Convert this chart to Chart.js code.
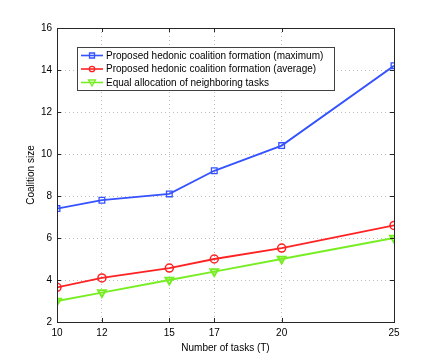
<!DOCTYPE html>
<html>
<head>
<meta charset="utf-8">
<script src="https://cdn.jsdelivr.net/npm/chart.js@4.4.1/dist/chart.umd.min.js"></script>
<style>
  html, body { margin: 0; padding: 0; background: #fff; }
  #wrap { width: 436px; height: 362px; }
</style>
</head>
<body>
<div id="wrap"><canvas id="chart" width="436" height="362"></canvas></div>
<script>
// data
const tasks = [10, 12, 15, 17, 20, 25];
const maxSize = [7.4, 7.8, 8.1, 9.2, 10.4, 14.2];
const avgSize = [3.65, 4.1, 4.57, 5.0, 5.52, 6.6];
const equalSize = [3.0, 3.4, 4.0, 4.4, 5.0, 6.0];
const xTicks = [10, 12, 15, 17, 20, 25];
const yTicks = [2, 4, 6, 8, 10, 12, 14, 16];
const seriesNames = [
    'Proposed hedonic coalition formation (maximum)',
    'Proposed hedonic coalition formation (average)',
    'Equal allocation of neighboring tasks'
];

const FONT = 'Liberation Sans, Arial, Helvetica, sans-serif';
const AXIS = '#262626';

function toPoints(ys) {
    return tasks.map((t, i) => ({ x: t, y: ys[i] }));
}

// frame on all four sides + small inward ticks (matlab look)
const framePlugin = {
    id: 'frame',
    afterDatasetsDraw(chart) {
        const ctx = chart.ctx;
        const a = chart.chartArea;
        const xs = chart.scales.x, ys = chart.scales.y;
        ctx.save();
        ctx.strokeStyle = AXIS;
        ctx.lineWidth = 1;
        ctx.strokeRect(Math.round(a.left) + 0.5, Math.round(a.top) + 0.5,
            Math.round(a.right - a.left), Math.round(a.bottom - a.top));
        ctx.beginPath();
        xTicks.forEach(v => {
            const px = Math.round(xs.getPixelForValue(v)) + 0.5;
            ctx.moveTo(px, a.bottom); ctx.lineTo(px, a.bottom - 4);
            ctx.moveTo(px, a.top); ctx.lineTo(px, a.top + 4);
        });
        yTicks.forEach(v => {
            const py = Math.round(ys.getPixelForValue(v)) + 0.5;
            ctx.moveTo(a.left, py); ctx.lineTo(a.left + 4, py);
            ctx.moveTo(a.right, py); ctx.lineTo(a.right - 4, py);
        });
        ctx.stroke();
        ctx.restore();
    }
};

// boxed legend inside the plot, like the original
const legendBox = {
    id: 'legendBox',
    afterDraw(chart) {
        const ctx = chart.ctx;
        const x0 = 77.5, y0 = 47.5, w = 257, h = 43;
        ctx.save();
        ctx.fillStyle = '#fff';
        ctx.fillRect(x0, y0, w, h);
        ctx.strokeStyle = '#404040';
        ctx.lineWidth = 1;
        ctx.strokeRect(x0, y0, w, h);
        chart.data.datasets.forEach((ds, i) => {
            const cy = 55.5 + i * 13.5;
            ctx.strokeStyle = ds.borderColor;
            ctx.lineWidth = 1.6;
            ctx.beginPath();
            ctx.moveTo(81, cy); ctx.lineTo(103, cy);
            ctx.stroke();
            ctx.lineWidth = 1.3;
            ctx.beginPath();
            if (i === 0) {
                ctx.rect(89.5, cy - 2.5, 5, 5);
            } else if (i === 1) {
                ctx.arc(92, cy, 2.7, 0, Math.PI * 2);
            } else {
                ctx.moveTo(88.5, cy - 2.5); ctx.lineTo(95.5, cy - 2.5); ctx.lineTo(92, cy + 3.5);
                ctx.closePath();
            }
            ctx.stroke();
            ctx.fillStyle = '#000';
            ctx.font = '10px ' + FONT;
            ctx.textBaseline = 'middle';
            ctx.fillText(seriesNames[i], 106, cy + 0.5);
        });
        ctx.restore();
    }
};

new Chart(document.getElementById('chart'), {
    type: 'line',
    data: {
        datasets: [{
            label: seriesNames[0],
            data: toPoints(maxSize),
            borderColor: '#3452ff',
            pointStyle: 'rect',
            pointRadius: 4,
            pointBorderWidth: 1.3,
            pointBackgroundColor: 'rgba(0,0,0,0)',
            borderWidth: 1.8
        }, {
            label: seriesNames[1],
            data: toPoints(avgSize),
            borderColor: '#ff2222',
            pointStyle: 'circle',
            pointRadius: 4,
            pointBorderWidth: 1.5,
            pointBackgroundColor: 'rgba(0,0,0,0)',
            borderWidth: 1.8
        }, {
            label: seriesNames[2],
            data: toPoints(equalSize),
            borderColor: '#77ee22',
            pointStyle: 'triangle',
            pointRotation: 180,
            pointRadius: 4.5,
            pointBorderWidth: 2,
            pointBackgroundColor: 'rgba(0,0,0,0)',
            borderWidth: 1.8
        }]
    },
    options: {
        responsive: false,
        animation: false,
        layout: { padding: { top: 28, right: 42, left: 0, bottom: 0 } },
        plugins: {
            legend: { display: false },
            tooltip: { enabled: false }
        },
        scales: {
            x: {
                type: 'linear',
                min: 10,
                max: 25,
                afterBuildTicks: s => { s.ticks = xTicks.map(v => ({ value: v })); },
                afterFit: s => { s.height = 40; },
                grid: { color: '#bdbdbd', drawTicks: false },
                border: { display: false, dash: [1, 3] },
                ticks: { color: '#000', padding: 5, maxRotation: 0, autoSkip: false, font: { family: FONT, size: 10 } },
                title: { display: true, text: 'Number of tasks (T)', color: '#000', font: { family: FONT, size: 10 }, padding: { top: 0, bottom: 8 } }
            },
            y: {
                min: 2,
                max: 16,
                afterBuildTicks: s => { s.ticks = yTicks.map(v => ({ value: v })); },
                afterFit: s => { s.width = 57; },
                grid: { color: '#bdbdbd', drawTicks: false },
                border: { display: false, dash: [1, 3] },
                ticks: { color: '#000', padding: 5, font: { family: FONT, size: 10 } },
                title: { display: true, text: 'Coalition size', color: '#000', font: { family: FONT, size: 10 }, padding: { top: 25, bottom: 0 } }
            }
        }
    },
    plugins: [framePlugin, legendBox]
});
</script>
</body>
</html>
